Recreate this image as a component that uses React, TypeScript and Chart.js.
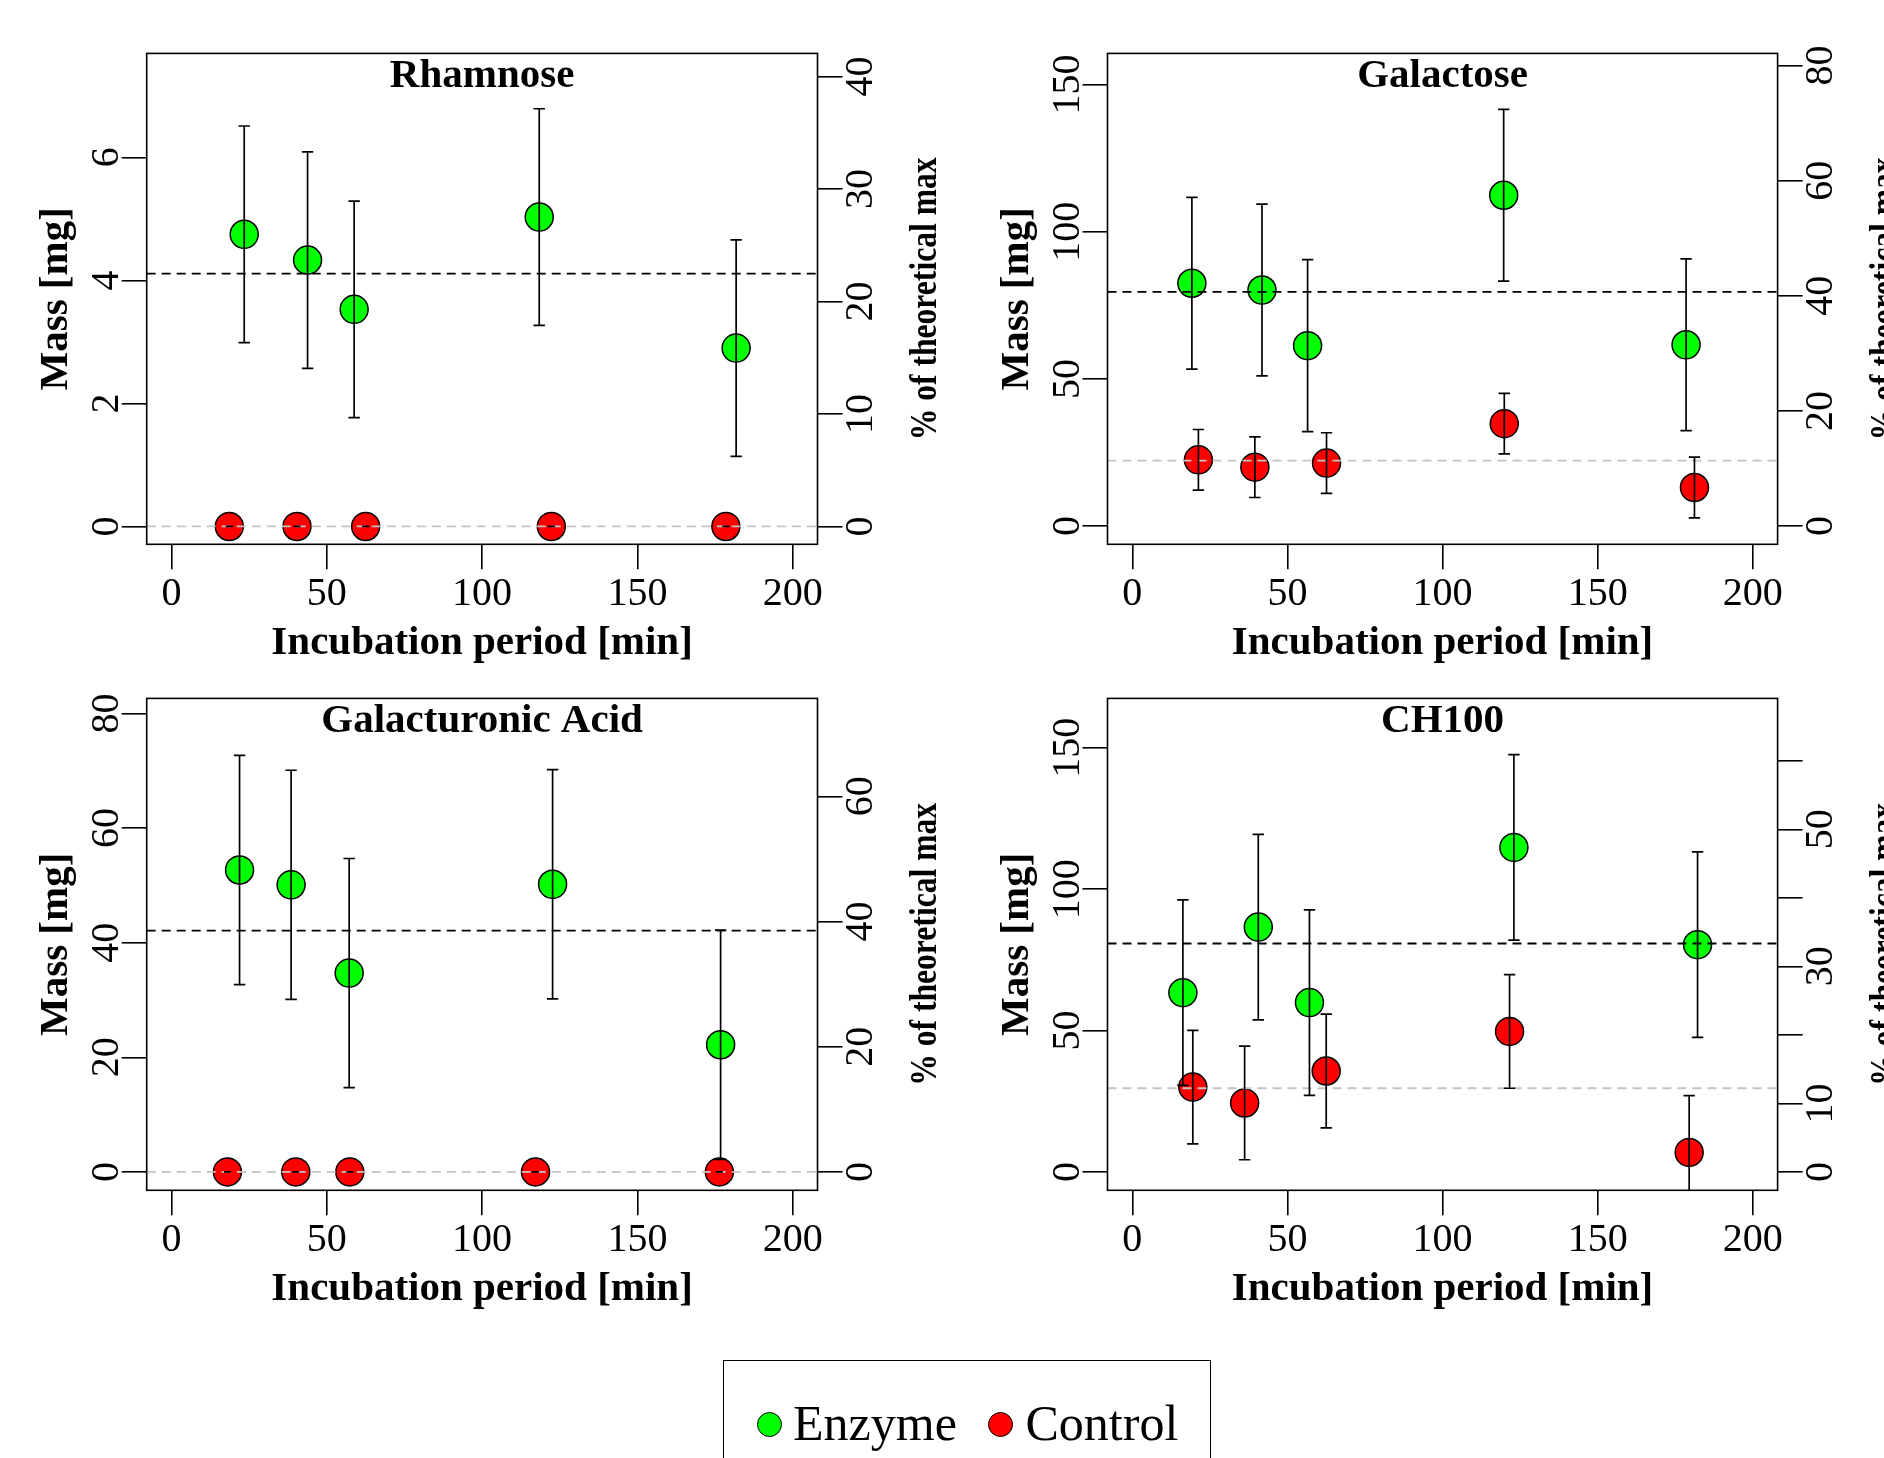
import React, { useEffect, useRef } from "react";
import { Chart, registerables } from "chart.js";
Chart.register(...registerables);

const FONT = "'Liberation Serif', 'Times New Roman', Times, serif";

// ---------- data ----------
const seriesNames = ["Enzyme", "Control"];
const seriesColors = ["#00FF00", "#FF0000"];
const xTicks = [0, 50, 100, 150, 200];
const xRange = [-8, 208];

// Rhamnose
const rhaEnzymeX = [23.4, 43.8, 58.8, 118.4, 181.8];
const rhaEnzymeY = [4.75, 4.33, 3.53, 5.03, 2.9];
const rhaEnzymeSd = [1.76, 1.76, 1.76, 1.76, 1.76];
const rhaControlX = [18.6, 40.4, 62.5, 122.3, 178.5];
const rhaControlY = [0, 0, 0, 0, 0];
const rhaControlSd = [0, 0, 0, 0, 0];
const rhaMeans = [4.11, 0];
const rhaLeftTicks = [0, 2, 4, 6];
const rhaRightTicks = [0, 10, 20, 30, 40];
const rhaRightLabels = ["0", "10", "20", "30", "40"];
const rhaRange = [-0.29, 7.69];
const rhaPctPerMg = 5.468;

// Galactose
const galEnzymeX = [19.2, 41.8, 56.5, 119.7, 178.5];
const galEnzymeY = [82.5, 80.2, 61.3, 112.4, 61.6];
const galEnzymeSd = [29.2, 29.2, 29.2, 29.2, 29.2];
const galControlX = [21.3, 39.5, 62.6, 119.9, 181.2];
const galControlY = [22.5, 20.0, 21.4, 34.8, 13.1];
const galControlSd = [10.3, 10.3, 10.3, 10.3, 10.3];
const galMeans = [79.6, 22.2];
const galLeftTicks = [0, 50, 100, 150];
const galRightTicks = [0, 20, 40, 60, 80];
const galRightLabels = ["0", "20", "40", "60", "80"];
const galRange = [-6.2, 160.6];
const galPctPerMg = 0.5112;

// Galacturonic Acid
const gauEnzymeX = [21.9, 38.5, 57.2, 122.7, 176.8];
const gauEnzymeY = [52.7, 50.1, 34.7, 50.2, 22.2];
const gauEnzymeSd = [20.0, 20.0, 20.0, 20.0, 20.0];
const gauControlX = [18.0, 40.0, 57.4, 117.2, 176.4];
const gauControlY = [0, 0, 0, 0, 0];
const gauControlSd = [0, 0, 0, 0, 0];
const gauMeans = [42.1, 0];
const gauLeftTicks = [0, 20, 40, 60, 80];
const gauRightTicks = [0, 20, 40, 60];
const gauRightLabels = ["0", "20", "40", "60"];
const gauRange = [-3.21, 82.64];
const gauPctPerMg = 0.9153;

// CH100
const chEnzymeX = [16.3, 40.6, 57.1, 123.0, 182.2];
const chEnzymeY = [63.4, 86.6, 59.9, 114.8, 80.4];
const chEnzymeSd = [32.8, 32.8, 32.8, 32.8, 32.8];
const chControlX = [19.5, 36.2, 62.5, 121.6, 179.5];
const chControlY = [30.0, 24.4, 35.7, 49.7, 6.9];
const chControlSd = [20.1, 20.1, 20.1, 20.1, 20.1];
const chMeans = [80.8, 29.6];
const chLeftTicks = [0, 50, 100, 150];
const chRightTicks = [0, 10, 20, 30, 40, 50, 60];
const chRightLabels = ["0", "10", "", "30", "", "50", ""];
const chRange = [-6.5, 167.5];
const chPctPerMg = 0.4126;

const titles = ["Rhamnose", "Galactose", "Galacturonic Acid", "CH100"];
const xTitle = "Incubation period [min]";
const yTitle = "Mass [mg]";
const y2Title = "% of theoretical max";

const PANELS = [
  { title: titles[0], ex: rhaEnzymeX, ey: rhaEnzymeY, es: rhaEnzymeSd, cx: rhaControlX, cy: rhaControlY, cs: rhaControlSd, means: rhaMeans, lt: rhaLeftTicks, rt: rhaRightTicks, rl: rhaRightLabels, range: rhaRange, f: rhaPctPerMg },
  { title: titles[1], ex: galEnzymeX, ey: galEnzymeY, es: galEnzymeSd, cx: galControlX, cy: galControlY, cs: galControlSd, means: galMeans, lt: galLeftTicks, rt: galRightTicks, rl: galRightLabels, range: galRange, f: galPctPerMg },
  { title: titles[2], ex: gauEnzymeX, ey: gauEnzymeY, es: gauEnzymeSd, cx: gauControlX, cy: gauControlY, cs: gauControlSd, means: gauMeans, lt: gauLeftTicks, rt: gauRightTicks, rl: gauRightLabels, range: gauRange, f: gauPctPerMg },
  { title: titles[3], ex: chEnzymeX, ey: chEnzymeY, es: chEnzymeSd, cx: chControlX, cy: chControlY, cs: chControlSd, means: chMeans, lt: chLeftTicks, rt: chRightTicks, rl: chRightLabels, range: chRange, f: chPctPerMg },
];

// ---------- layout ----------
const FRAMES = [
  { x: 0, y: 0, cw: 942, ch: 680, left: 146.7, top: 53.4, right: 817.5, bottom: 544.3 },
  { x: 942, y: 0, cw: 942, ch: 680, left: 165.5, top: 53.4, right: 835.6, bottom: 544.3 },
  { x: 0, y: 680, cw: 942, ch: 640, left: 146.7, top: 18.4, right: 817.5, bottom: 510.3 },
  { x: 942, y: 680, cw: 942, ch: 640, left: 165.5, top: 18.4, right: 835.6, bottom: 510.3 },
];

const SW = 30;
const tickGrid = { display: true, drawOnChartArea: false, drawTicks: true, tickLength: 25, lineWidth: 1.6, color: "#000" };

function rotText(ctx: CanvasRenderingContext2D, text: string, x: number, y: number, font: string, targetLen?: number) {
  ctx.save();
  ctx.font = font;
  ctx.translate(x, y);
  ctx.rotate(-Math.PI / 2);
  if (targetLen) {
    const w = ctx.measureText(text).width;
    ctx.scale(targetLen / w, 1);
  }
  ctx.textAlign = "center";
  ctx.textBaseline = "alphabetic";
  ctx.fillStyle = "#000";
  ctx.fillText(text, 0, 0);
  ctx.restore();
}

function makePlugin(p: any) {
  return {
    id: "panelDecor",
    afterDatasetsDraw(chart: any) {
      const ctx: CanvasRenderingContext2D = chart.ctx;
      const ca = chart.chartArea;
      const xs = chart.scales.x;
      const ys = chart.scales.y;
      const y2 = chart.scales.y2;
      ctx.save();
      ctx.beginPath();
      ctx.rect(ca.left, ca.top, ca.right - ca.left, ca.bottom - ca.top);
      ctx.clip();
      // mean lines
      ctx.lineWidth = 1.8;
      ctx.setLineDash([9, 6]);
      const cm = ys.getPixelForValue(p.means[1]);
      ctx.strokeStyle = "#C4C4C4";
      ctx.beginPath(); ctx.moveTo(ca.left, cm); ctx.lineTo(ca.right, cm); ctx.stroke();
      const em = ys.getPixelForValue(p.means[0]);
      ctx.strokeStyle = "#000";
      ctx.beginPath(); ctx.moveTo(ca.left, em); ctx.lineTo(ca.right, em); ctx.stroke();
      ctx.setLineDash([]);
      // error bars
      ctx.strokeStyle = "#000";
      ctx.lineWidth = 1.7;
      const bars = (X: number[], Y: number[], S: number[]) => {
        X.forEach((xv, i) => {
          const px = xs.getPixelForValue(xv);
          if (S[i] === 0) {
            const py = ys.getPixelForValue(Y[i]);
            ctx.beginPath(); ctx.moveTo(px - 3.5, py); ctx.lineTo(px + 3.5, py); ctx.stroke();
            return;
          }
          const t = ys.getPixelForValue(Y[i] + S[i]);
          const b = ys.getPixelForValue(Y[i] - S[i]);
          ctx.beginPath();
          ctx.moveTo(px, t); ctx.lineTo(px, b);
          ctx.moveTo(px - 5.7, t); ctx.lineTo(px + 5.7, t);
          ctx.moveTo(px - 5.7, b); ctx.lineTo(px + 5.7, b);
          ctx.stroke();
        });
      };
      bars(p.ex, p.ey, p.es);
      bars(p.cx, p.cy, p.cs);
      ctx.restore();

      // box
      ctx.save();
      ctx.strokeStyle = "#000";
      ctx.lineWidth = 1.6;
      ctx.strokeRect(ca.left, ca.top, ca.right - ca.left, ca.bottom - ca.top);
      ctx.restore();

      // texts
      const mid = (ca.left + ca.right) / 2;
      const vmid = (ca.top + ca.bottom) / 2;
      ctx.save();
      ctx.fillStyle = "#000";
      ctx.textAlign = "center";
      ctx.textBaseline = "alphabetic";
      ctx.font = `bold 41px ${FONT}`;
      ctx.fillText(p.title, mid, ca.top + 33.3);
      ctx.fillText(xTitle, mid, ca.bottom + 110);
      ctx.font = `40px ${FONT}`;
      xTicks.forEach((v) => ctx.fillText(String(v), xs.getPixelForValue(v), ca.bottom + 60.5));
      ctx.restore();

      p.lt.forEach((v: number) => rotText(ctx, String(v), ca.left - 28.7, ys.getPixelForValue(v), `40px ${FONT}`));
      p.rt.forEach((v: number, i: number) => {
        if (p.rl[i]) rotText(ctx, p.rl[i], ca.right + 54.7, y2.getPixelForValue(v), `40px ${FONT}`);
      });
      rotText(ctx, yTitle, ca.left - 79.7, vmid, `bold 41px ${FONT}`);
      rotText(ctx, y2Title, ca.right + 118, vmid, `bold 37px ${FONT}`, 283);
    },
  };
}

function makeChart(canvas: HTMLCanvasElement, p: any, fr: any) {
  const ds = (X: number[], Y: number[], color: string, label: string) => ({
    label,
    data: X.map((x, i) => ({ x, y: Y[i] })),
    backgroundColor: color,
    borderColor: "#000",
    borderWidth: 1.5,
    pointRadius: 14,
    pointHoverRadius: 14,
    showLine: false,
  });
  const setTicks = (vals: number[]) => (s: any) => {
    s.ticks = vals.map((v) => ({ value: v }));
  };
  return new Chart(canvas, {
    type: "scatter",
    data: {
      datasets: [
        ds(p.ex, p.ey, seriesColors[0], seriesNames[0]),
        ds(p.cx, p.cy, seriesColors[1], seriesNames[1]),
      ],
    },
    options: {
      animation: false,
      responsive: false,
      maintainAspectRatio: false,
      events: [],
      layout: {
        padding: {
          left: fr.left - SW,
          top: fr.top,
          right: fr.cw - fr.right - SW,
          bottom: fr.ch - fr.bottom - SW,
        },
      },
      plugins: { legend: { display: false }, tooltip: { enabled: false }, title: { display: false } },
      scales: {
        x: {
          type: "linear", position: "bottom", min: xRange[0], max: xRange[1],
          afterBuildTicks: setTicks(xTicks),
          afterFit: (s: any) => { s.height = SW; },
          grid: tickGrid, border: { display: false }, ticks: { display: false },
        },
        y: {
          type: "linear", position: "left", min: p.range[0], max: p.range[1],
          afterBuildTicks: setTicks(p.lt),
          afterFit: (s: any) => { s.width = SW; },
          grid: tickGrid, border: { display: false }, ticks: { display: false },
        },
        y2: {
          type: "linear", position: "right", min: p.range[0] * p.f, max: p.range[1] * p.f,
          afterBuildTicks: setTicks(p.rt),
          afterFit: (s: any) => { s.width = SW; },
          grid: tickGrid, border: { display: false }, ticks: { display: false },
        },
      },
    } as any,
    plugins: [makePlugin(p)],
  });
}

export default function App() {
  const r0 = useRef<HTMLCanvasElement>(null);
  const r1 = useRef<HTMLCanvasElement>(null);
  const r2 = useRef<HTMLCanvasElement>(null);
  const r3 = useRef<HTMLCanvasElement>(null);
  const refs = [r0, r1, r2, r3];
  useEffect(() => {
    const charts = PANELS.map((p, i) => makeChart(refs[i].current as HTMLCanvasElement, p, FRAMES[i]));
    return () => charts.forEach((c) => c.destroy());
  }, []);

  const legendItems = [
    { cx: 769, tx: 793 },
    { cx: 1000.7, tx: 1025.5 },
  ];

  return (
    <div style={{ position: "absolute", left: 0, top: 0, width: 1884, height: 1458, overflow: "hidden", background: "#fff" }}>
      {FRAMES.map((f, i) => (
        <canvas
          key={i}
          ref={refs[i]}
          width={f.cw}
          height={f.ch}
          style={{ position: "absolute", left: f.x, top: f.y, width: f.cw, height: f.ch }}
        />
      ))}
      <div
        style={{
          position: "absolute", left: 722.6, top: 1360, width: 488.6, height: 160,
          border: "1.6px solid #000", boxSizing: "border-box",
        }}
      />
      {legendItems.map((it, i) => (
        <React.Fragment key={i}>
          <div
            style={{
              position: "absolute", left: it.cx - 12.5, top: 1424.5 - 12.5, width: 25, height: 25,
              borderRadius: "50%", background: seriesColors[i], border: "1.5px solid #000", boxSizing: "border-box",
            }}
          />
          <span
            style={{
              position: "absolute", left: it.tx, top: 1398, fontFamily: FONT, fontSize: 50,
              lineHeight: "50px", whiteSpace: "nowrap", color: "#000",
            }}
          >
            {seriesNames[i]}
          </span>
        </React.Fragment>
      ))}
    </div>
  );
}
